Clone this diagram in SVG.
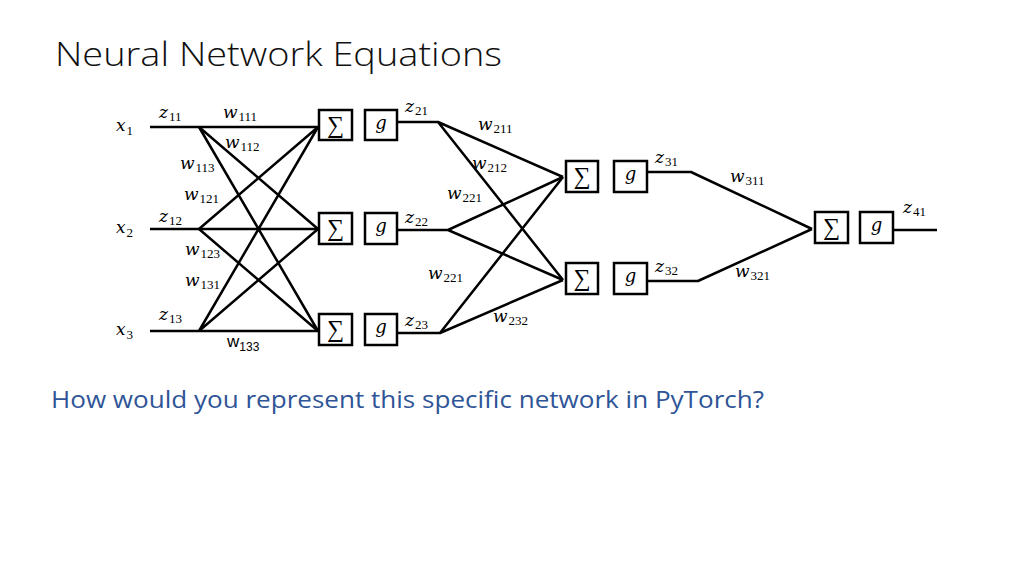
<svg xmlns="http://www.w3.org/2000/svg" width="1024" height="576" viewBox="0 0 1024 576">
<style>
.ln{stroke:#000;stroke-width:2.5;fill:none;stroke-linejoin:round}
.bx{stroke:#000;stroke-width:2.5;fill:#fff}
.m{font-family:"DejaVu Serif","Liberation Serif",serif;font-style:italic;font-size:17px;fill:#000}
.s{font-family:"Liberation Serif","DejaVu Serif",serif;font-style:normal;font-size:13px;fill:#000}
.op{font-family:"Liberation Serif","DejaVu Serif",serif;font-size:24px;fill:#000;text-anchor:middle}
.gi{font-family:"DejaVu Serif","Liberation Serif",serif;font-style:italic;font-size:18px;fill:#000;text-anchor:middle}
</style>
<rect width="1024" height="576" fill="#fff"/>
<text x="55" y="66" font-family="Open Sans, Liberation Sans, sans-serif" font-weight="300" font-size="33" fill="#111" textLength="447" lengthAdjust="spacingAndGlyphs">Neural Network Equations</text>
<text x="51" y="408" font-family="Open Sans, Liberation Sans, sans-serif" font-size="24" fill="#2F5597" textLength="713" lengthAdjust="spacingAndGlyphs">How would you represent this specific network in PyTorch?</text>

<g id="connectors">
<path class="ln" d="M150 127H318M150 229H318M150 331H318"/>
<path class="ln" d="M199 127L318 229M199 127L318 331M199 229L318 127M199 229L318 331M199 331L318 127M199 331L318 229"/>
<path class="ln" d="M397 122H438L563 177M438 122L563 280"/>
<path class="ln" d="M397 230H448L563 177M448 230L563 280"/>
<path class="ln" d="M397 333H440L563 177M440 333L563 280"/>
<path class="ln" d="M647 172H691L812 229M647 281H698L812 229"/>
<path class="ln" d="M893 230H937"/>
</g>

<g id="n11"><rect class="bx" x="319" y="110" width="33" height="30"/><text class="op" x="335.5" y="133">∑</text></g>
<g id="g11"><rect class="bx" x="365" y="110" width="32" height="30"/><text class="gi" x="381" y="129">g</text></g>
<g id="n12"><rect class="bx" x="319" y="213" width="33" height="31"/><text class="op" x="335.5" y="236">∑</text></g>
<g id="g12"><rect class="bx" x="365" y="213" width="32" height="31"/><text class="gi" x="381" y="232">g</text></g>
<g id="n13"><rect class="bx" x="319" y="314" width="33" height="31"/><text class="op" x="335.5" y="337">∑</text></g>
<g id="g13"><rect class="bx" x="365" y="314" width="32" height="31"/><text class="gi" x="381" y="333">g</text></g>
<g id="n21"><rect class="bx" x="566" y="161" width="32" height="31"/><text class="op" x="582" y="184">∑</text></g>
<g id="g21"><rect class="bx" x="614" y="161" width="33" height="31"/><text class="gi" x="630.5" y="180">g</text></g>
<g id="n22"><rect class="bx" x="566" y="263" width="32" height="31"/><text class="op" x="582" y="286">∑</text></g>
<g id="g22"><rect class="bx" x="614" y="263" width="33" height="31"/><text class="gi" x="630.5" y="282">g</text></g>
<g id="n31"><rect class="bx" x="815" y="212" width="33" height="31"/><text class="op" x="831.5" y="235">∑</text></g>
<g id="g31"><rect class="bx" x="860" y="212" width="33" height="31"/><text class="gi" x="876.5" y="231">g</text></g>

<g id="labels">
<text class="m" x="116" y="131">x<tspan class="s" dx="1" dy="4">1</tspan></text>
<text class="m" x="116" y="233">x<tspan class="s" dx="1" dy="4">2</tspan></text>
<text class="m" x="116" y="335">x<tspan class="s" dx="1" dy="4">3</tspan></text>
<text class="m" x="159" y="118">z<tspan class="s" dx="1" dy="3">11</tspan></text>
<text class="m" x="159" y="222">z<tspan class="s" dx="1" dy="3">12</tspan></text>
<text class="m" x="159" y="320">z<tspan class="s" dx="1" dy="3">13</tspan></text>
<text class="m" x="223" y="118">w<tspan class="s" dx="1" dy="3">111</tspan></text>
<text class="m" x="225" y="148">w<tspan class="s" dx="1" dy="3">112</tspan></text>
<text class="m" x="180" y="169">w<tspan class="s" dx="1" dy="3">113</tspan></text>
<text class="m" x="184" y="200">w<tspan class="s" dx="1" dy="3">121</tspan></text>
<text class="m" x="185" y="255">w<tspan class="s" dx="1" dy="3">123</tspan></text>
<text class="m" x="185" y="286">w<tspan class="s" dx="1" dy="3">131</tspan></text>
<text x="227" y="347" font-family="Liberation Sans, sans-serif" font-size="17" fill="#000">w<tspan font-size="12" dy="4">133</tspan></text>
<text class="m" x="405" y="112">z<tspan class="s" dx="1" dy="3">21</tspan></text>
<text class="m" x="405" y="223">z<tspan class="s" dx="1" dy="3">22</tspan></text>
<text class="m" x="405" y="326">z<tspan class="s" dx="1" dy="3">23</tspan></text>
<text class="m" x="478" y="130">w<tspan class="s" dx="1" dy="3">211</tspan></text>
<text class="m" x="472" y="169">w<tspan class="s" dx="1" dy="3">212</tspan></text>
<text class="m" x="447" y="199">w<tspan class="s" dx="1" dy="3">221</tspan></text>
<text class="m" x="428" y="279">w<tspan class="s" dx="1" dy="3">221</tspan></text>
<text class="m" x="493" y="322">w<tspan class="s" dx="1" dy="3">232</tspan></text>
<text class="m" x="655" y="163">z<tspan class="s" dx="1" dy="3">31</tspan></text>
<text class="m" x="655" y="272">z<tspan class="s" dx="1" dy="3">32</tspan></text>
<text class="m" x="730" y="182">w<tspan class="s" dx="1" dy="3">311</tspan></text>
<text class="m" x="735" y="277">w<tspan class="s" dx="1" dy="3">321</tspan></text>
<text class="m" x="903" y="213">z<tspan class="s" dx="1" dy="3">41</tspan></text>
</g>
</svg>
